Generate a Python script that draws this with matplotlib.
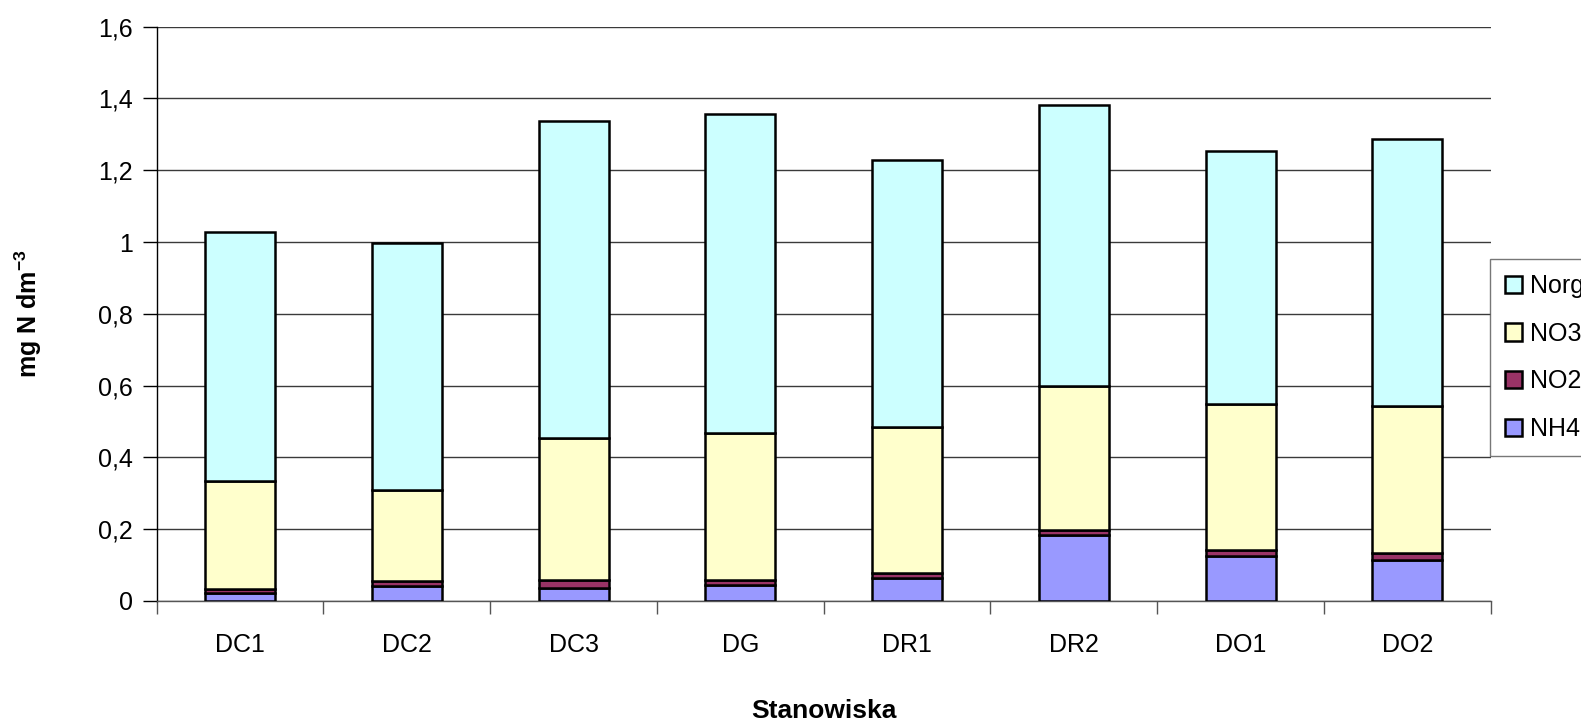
import matplotlib
matplotlib.use("Agg")
import matplotlib.pyplot as plt
import numpy as np

plt.rcParams['font.family'] = ['Liberation Sans', 'DejaVu Sans']
plt.rcParams['mathtext.fontset'] = 'custom'
plt.rcParams['mathtext.rm'] = 'Liberation Sans'
plt.rcParams['mathtext.bf'] = 'Liberation Sans:bold'

# Sampling sites and nitrogen fractions (mg N dm-3)
sites = ["DC1", "DC2", "DC3", "DG", "DR1", "DR2", "DO1", "DO2"]
nh4 = [0.023, 0.042, 0.036, 0.044, 0.063, 0.183, 0.125, 0.114]
no2 = [0.011, 0.013, 0.022, 0.015, 0.015, 0.014, 0.017, 0.020]
no3 = [0.300, 0.255, 0.397, 0.408, 0.407, 0.401, 0.407, 0.410]
norg = [0.695, 0.688, 0.881, 0.889, 0.744, 0.783, 0.706, 0.742]

series = [
    ("NH4", nh4, "#9999FF"),
    ("NO2", no2, "#993366"),
    ("NO3", no3, "#FFFFCC"),
    ("Norg", norg, "#CCFFFF"),
]
yticks = [0, 0.2, 0.4, 0.6, 0.8, 1.0, 1.2, 1.4, 1.6]
ytick_labels = ["0", "0,2", "0,4", "0,6", "0,8", "1", "1,2", "1,4", "1,6"]

W, H = 1581, 727
fig = plt.figure(figsize=(W / 100, H / 100), dpi=100)
ax = fig.add_axes([156.7 / W, 1 - 601 / H, (1490.7 - 156.7) / W, (601 - 26.7) / H])

x = np.arange(len(sites))
bottom = np.zeros(len(sites))
handles = {}
for name, vals, color in series:
    vals = np.array(vals)
    b = ax.bar(x, vals, width=0.42, bottom=bottom, color=color,
               edgecolor="black", linewidth=1.8, zorder=3, label=name)
    handles[name] = b
    bottom += vals

ax.set_xlim(-0.5, len(sites) - 0.5)
ax.set_ylim(0, 1.6)
ax.set_yticks(yticks)
ax.set_yticklabels(ytick_labels)
ax.yaxis.grid(True, color="#3a3a3a", linewidth=1.0, zorder=0)
ax.set_axisbelow(True)

ax.set_xticks(x)
ax.set_xticklabels(sites)
ax.set_xticks(np.arange(-0.5, len(sites), 1.0), minor=True)
ax.tick_params(axis="x", which="major", length=0, pad=23, labelsize=18)
ax.tick_params(axis="x", which="minor", length=9, width=1, color="#555555")
ax.tick_params(axis="y", length=10, width=1, pad=7, labelsize=18)

for side in ("top", "right"):
    ax.spines[side].set_visible(False)
ax.spines["left"].set_color("black")
ax.spines["left"].set_linewidth(1.0)
ax.spines["bottom"].set_color("#555555")
ax.spines["bottom"].set_linewidth(1.0)

ax.set_ylabel(r"mg N dm$^{\mathbf{-3}}$", fontsize=18, fontweight="bold")
ax.yaxis.set_label_coords(-(156.7 - 44) / (1490.7 - 156.7), 0.5)
fig.text((156.7 + 1490.7) / 2 / W, 1 - 711 / H, "Stanowiska", ha="center",
         va="center", fontsize=19, fontweight="bold")

order = ["Norg", "NO3", "NO2", "NH4"]
leg = fig.legend([handles[n] for n in order], order, loc="upper left",
                 bbox_to_anchor=(1490 / W, 1 - 259 / H), fontsize=18,
                 frameon=True, fancybox=False, edgecolor="#555555",
                 handlelength=0.68, handleheight=0.68, handletextpad=0.3,
                 labelspacing=0.95, borderpad=0.6, borderaxespad=0)
leg.get_frame().set_linewidth(1.0)

fig.savefig("out.png", dpi=100)
